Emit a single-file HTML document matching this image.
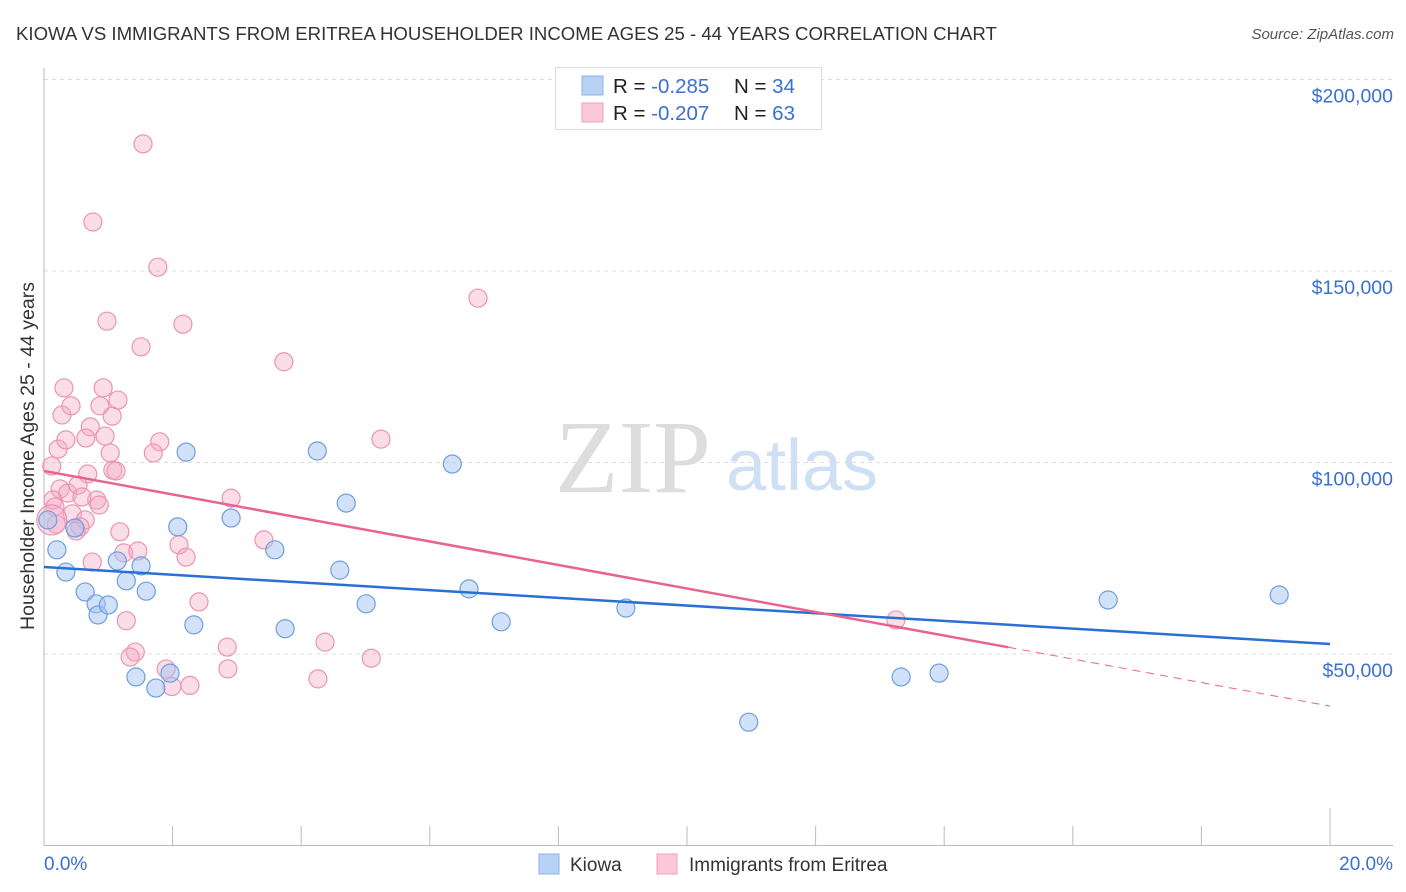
<!DOCTYPE html>
<html><head><meta charset="utf-8"><style>
body{margin:0;background:#fff;font-family:"Liberation Sans",sans-serif;}
svg{display:block}
</style></head><body>
<svg id="chart" width="1406" height="892">
<text x="16" y="40" font-size="18.6" fill="#333">KIOWA VS IMMIGRANTS FROM ERITREA HOUSEHOLDER INCOME AGES 25 - 44 YEARS CORRELATION CHART</text>
<text x="1394" y="39" font-size="15" fill="#555" font-style="italic" text-anchor="end">Source: ZipAtlas.com</text>
<text x="27" y="456" font-size="19.5" fill="#333" text-anchor="middle" transform="rotate(-90 27 456)" dy="7">Householder Income Ages 25 - 44 years</text>
<text x="633" y="492" font-size="104" fill="#ddd" font-family="Liberation Serif,serif" text-anchor="middle">ZIP</text>
<text x="802" y="490" font-size="72" fill="#cfe0f5" text-anchor="middle">atlas</text>
<g id="grid"></g><g id="axes"></g><g id="pts"></g><g id="lines"></g>
<g>
<rect x="555.5" y="67.5" width="266" height="62" fill="#fff" stroke="#ddd"/>
<rect x="582" y="76" width="21" height="19" fill="#b8d2f5" stroke="#8ab0e8"/>
<rect x="582" y="103" width="21" height="19" fill="#fbc9d8" stroke="#f0a0ba"/>
<text x="613" y="93" font-size="20.5" fill="#222">R = <tspan fill="#3a70d0">-0.285</tspan></text>
<text x="734" y="93" font-size="20.5" fill="#222">N = <tspan fill="#3a70d0">34</tspan></text>
<text x="613" y="120" font-size="20.5" fill="#222">R = <tspan fill="#3a70d0">-0.207</tspan></text>
<text x="734" y="120" font-size="20.5" fill="#222">N = <tspan fill="#3a70d0">63</tspan></text>
</g>
<g>
<rect x="539" y="854" width="20" height="20" fill="#b8d2f5" stroke="#8ab0e8"/>
<text x="570" y="871" font-size="19" fill="#333">Kiowa</text>
<rect x="657" y="854" width="20" height="20" fill="#fbc9d8" stroke="#f0a0ba"/>
<text x="689" y="871" font-size="19" fill="#333">Immigrants from Eritrea</text>
</g>
<text x="44" y="870" font-size="19" fill="#3a70d0">0.0%</text>
<text x="1393" y="870" font-size="19" fill="#3a70d0" text-anchor="end">20.0%</text>
</svg>
<script>
const yTicks=[50000,100000,150000,200000];
const yTickLabels=["$50,000","$100,000","$150,000","$200,000"];
const blueX=[0.20,0.34,0.64,0.81,0.84,1.00,1.14,1.28,1.43,1.51,1.59,1.74,1.96,2.08,2.21,2.33,2.91,3.59,3.75,4.25,4.60,4.70,5.01,6.35,6.61,7.11,9.05,10.96,13.33,13.92,16.55,19.21,0.06,0.48];
const blueY=[77.2,71.4,66.2,63.1,60.2,62.8,74.3,69.1,44.0,73.0,66.4,41.1,45.0,83.2,102.7,57.6,85.5,77.2,56.6,103.0,71.9,89.4,63.1,99.6,67.0,58.4,62.0,32.2,44.0,45.0,64.1,65.4,85.0,82.9];
const pinkX=[1.54,0.76,1.77,6.75,0.98,2.16,1.51,3.73,0.31,0.92,0.28,0.42,1.15,0.87,1.06,0.72,0.22,0.65,0.95,1.80,1.70,1.03,5.24,0.12,0.68,1.07,1.12,0.25,0.37,0.53,0.82,0.86,2.91,0.14,0.17,0.44,0.64,0.56,0.50,0.19,1.18,2.10,3.42,1.24,1.46,2.21,0.75,2.41,1.28,13.25,2.85,4.37,1.42,1.34,5.09,1.90,2.86,4.26,1.99,2.27,0.59,0.34,0.12];
const pinkY=[183.2,162.8,151.0,142.9,136.9,136.1,130.2,126.3,119.5,119.5,112.4,114.8,116.3,114.8,112.1,109.3,103.5,106.4,106.9,105.4,102.5,102.5,106.1,99.1,97.0,98.0,97.8,93.1,92.0,94.1,90.2,88.9,90.7,90.2,88.4,86.6,85.0,83.2,82.1,83.9,81.9,78.5,79.8,76.4,76.9,75.3,74.0,63.6,58.7,58.9,51.8,53.1,50.5,49.2,48.9,46.1,46.1,43.5,41.5,41.8,91.0,105.9,85.0];
const blueTrend=[72.7,52.6];
const pinkTrend=[97.8,36.4];
const pinkSolidEnd=15.0;
const X=p=>44+p*64.3;
const Y=v=>845.5-v*1000*191.5/50000;
const NS="http://www.w3.org/2000/svg";
function mk(tag,attrs,parent){const e=document.createElementNS(NS,tag);for(const k in attrs)e.setAttribute(k,attrs[k]);document.getElementById(parent).appendChild(e);return e;}
yTicks.forEach((t,i)=>{
  const y=Y(t/1000);
  const g=mk('line',{x1:44,x2:1393,y1:y,y2:y,stroke:'#ddd','stroke-dasharray':'4,4'},'grid');
  
  
  const tx=mk('text',{x:1393,y:y+23,'font-size':19.5,fill:'#3a70d0','text-anchor':'end'},'grid');
  tx.textContent=yTickLabels[i];
  
  
});
let a=mk('line',{x1:44,x2:44,y1:68,y2:846,stroke:'#bbb'},'axes');


a=mk('line',{x1:44,x2:1393,y1:845.5,y2:845.5,stroke:'#bbb'},'axes');


for(let i=1;i<=10;i++){const x=X(i*2);
  const t=mk('line',{x1:x,x2:x,y1:i==10?808:826,y2:846,stroke:'#bbb'},'axes');
  
  }
function pts(xs,ys,fill,stroke,name){xs.forEach((x,i)=>{
  const big=(i==xs.length-1&&x<0.15);
  const c=mk('circle',{cx:X(x),cy:Y(ys[i]),r:big?15:9,fill:fill,stroke:stroke,'stroke-width':1.2},'pts');
  
  });}
pts(pinkX,pinkY,'rgba(246,170,196,0.4)','#eb94b2','eritrea-point');
pts(blueX,blueY,'rgba(164,198,242,0.5)','#6f9ede','kiowa-point');
let l=mk('line',{x1:X(0),y1:Y(blueTrend[0]),x2:X(20),y2:Y(blueTrend[1]),stroke:'#2a6fd6','stroke-width':2.5},'lines');


const py=p=>pinkTrend[0]+(pinkTrend[1]-pinkTrend[0])*p/20;
l=mk('line',{x1:X(0),y1:Y(pinkTrend[0]),x2:X(pinkSolidEnd),y2:Y(py(pinkSolidEnd)),stroke:'#e8648e','stroke-width':2.5},'lines');


l=mk('line',{x1:X(pinkSolidEnd),y1:Y(py(pinkSolidEnd)),x2:X(20),y2:Y(pinkTrend[1]),stroke:'#e8648e','stroke-width':1,'stroke-dasharray':'8,6'},'lines');


</script>
</body></html>
